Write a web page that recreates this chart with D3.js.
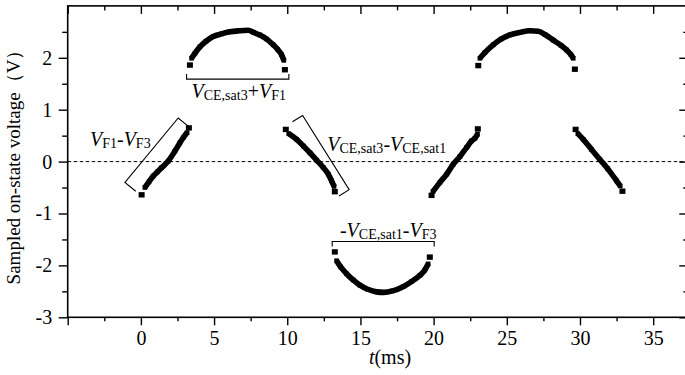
<!DOCTYPE html>
<html><head><meta charset="utf-8">
<script src="https://cdn.jsdelivr.net/npm/d3@7"></script>
<style>
html,body{margin:0;padding:0;background:#fff;}
svg{display:block;font-family:"Liberation Serif","Times New Roman",serif;}
</style></head><body>
<svg id="chart" width="685" height="375"></svg>
<script>
// Sampled on-state voltage (V) against time (ms), one pair of arrays per conduction interval
const rise1T = [0.05, 0.27, 0.55, 0.84, 1.12, 1.41, 1.87, 2.32, 2.66, 2.89, 3.16, 3.28];
const rise1V = [-0.64, -0.50, -0.39, -0.28, -0.20, -0.12, 0.01, 0.20, 0.36, 0.46, 0.56, 0.65];

const arch1T = [3.35, 3.46, 3.70, 4.03, 4.45, 4.94, 5.50, 6.08, 6.70, 7.33, 7.70, 8.13, 8.60, 9.04, 9.35, 9.61, 9.77, 9.84];
const arch1V = [1.86, 1.99, 2.09, 2.21, 2.32, 2.41, 2.46, 2.50, 2.52, 2.53, 2.49, 2.44, 2.36, 2.25, 2.16, 2.06, 1.95, 1.77];

const fall1T = [9.90, 10.10, 10.64, 11.10, 11.55, 12.00, 12.45, 12.80, 13.03, 13.20, 13.25];
const fall1V = [0.62, 0.54, 0.43, 0.30, 0.17, 0.03, -0.11, -0.24, -0.37, -0.48, -0.58];

const troughT = [13.25, 13.37, 13.65, 14.05, 14.50, 14.96, 15.50, 16.10, 16.60, 17.20, 17.92, 18.50, 19.07, 19.40, 19.63, 19.74];
const troughV = [-1.74, -1.91, -2.03, -2.16, -2.28, -2.38, -2.46, -2.51, -2.52, -2.49, -2.41, -2.31, -2.19, -2.09, -1.97, -1.84];

const rise2T = [19.86, 19.95, 20.43, 20.90, 21.34, 21.80, 22.25, 22.60, 22.82, 23.00, 23.02];
const rise2V = [-0.65, -0.58, -0.40, -0.24, -0.05, 0.10, 0.27, 0.40, 0.45, 0.53, 0.63];

const arch2T = [23.05, 23.16, 23.50, 24.07, 24.60, 25.21, 25.90, 26.58, 27.14, 27.60, 28.18, 28.70, 29.09, 29.38, 29.54, 29.65];
const arch2V = [1.85, 1.99, 2.10, 2.25, 2.36, 2.44, 2.49, 2.52, 2.51, 2.45, 2.34, 2.24, 2.15, 2.06, 1.99, 1.78];

const fall2T = [29.70, 29.85, 30.22, 30.80, 31.36, 31.90, 32.50, 32.75, 32.90];
const fall2V = [0.62, 0.54, 0.43, 0.23, 0.04, -0.14, -0.37, -0.47, -0.57];

const xMajorTicks = [-5, 0, 5, 10, 15, 20, 25, 30, 35];
const xMinorTicks = [-2.5, 2.5, 7.5, 12.5, 17.5, 22.5, 27.5, 32.5];
const yMajorTicks = [-3, -2, -1, 0, 1, 2];
const yMinorTicks = [-2.5, -1.5, -0.5, 0.5, 1.5, 2.5];

(function draw() {
  const svg = d3.select("#chart");
  const pLeft = 67.7, pRight = 688.3, pTop = 5.9, pBottom = 317.3;

  const x = d3.scaleLinear().domain([-5, 37.4]).range([pLeft, pRight]);
  const y = d3.scaleLinear().domain([-3, 3]).range([pBottom, pTop]);

  const serif = "'Liberation Serif','Times New Roman',serif";
  function styleAxis(g) {
    g.attr("font-family", serif);
    g.select(".domain").remove();
    g.selectAll(".tick line").attr("stroke", "#000").attr("stroke-width", 1.4);
    g.selectAll("text").attr("fill", "#000").attr("font-size", 20).attr("font-family", serif);
  }
  const fmt = d => (d === -5 ? "" : String(d));

  // bottom axis (outward ticks, labelled)
  svg.append("g").attr("transform", `translate(0,${pBottom})`)
    .call(d3.axisBottom(x).tickValues(xMajorTicks).tickSize(8).tickPadding(5.5).tickFormat(fmt))
    .call(styleAxis);
  svg.append("g").attr("transform", `translate(0,${pBottom})`)
    .call(d3.axisBottom(x).tickValues(xMinorTicks).tickSize(4).tickFormat(""))
    .call(styleAxis);
  // top axis (inward ticks)
  svg.append("g").attr("transform", `translate(0,${pTop})`)
    .call(d3.axisTop(x).tickValues(xMajorTicks).tickSize(-8).tickFormat(""))
    .call(styleAxis);
  svg.append("g").attr("transform", `translate(0,${pTop})`)
    .call(d3.axisTop(x).tickValues(xMinorTicks).tickSize(-4.5).tickFormat(""))
    .call(styleAxis);
  // left axis (outward ticks, labelled)
  svg.append("g").attr("transform", `translate(${pLeft},0)`)
    .call(d3.axisLeft(y).tickValues(yMajorTicks).tickSize(9).tickPadding(6.5).tickFormat(d => String(d)))
    .call(styleAxis);
  svg.append("g").attr("transform", `translate(${pLeft},0)`)
    .call(d3.axisLeft(y).tickValues(yMinorTicks).tickSize(5.5).tickFormat(""))
    .call(styleAxis);
  // right axis (inward ticks)
  svg.append("g").attr("transform", `translate(${pRight},0)`)
    .call(d3.axisRight(y).tickValues(yMajorTicks).tickSize(-9).tickFormat(""))
    .call(styleAxis);
  svg.append("g").attr("transform", `translate(${pRight},0)`)
    .call(d3.axisRight(y).tickValues(yMinorTicks).tickSize(-5).tickFormat(""))
    .call(styleAxis);

  // frame
  svg.append("rect").attr("x", pLeft).attr("y", pTop)
    .attr("width", pRight - pLeft).attr("height", pBottom - pTop)
    .attr("fill", "none").attr("stroke", "#000").attr("stroke-width", 1.6);

  // zero reference line
  svg.append("line").attr("x1", pLeft).attr("x2", pRight)
    .attr("y1", y(0)).attr("y2", y(0))
    .attr("stroke", "#000").attr("stroke-width", 1).attr("stroke-dasharray", "3.5,2.5");

  // series: dense square samples drawn as a thick trace plus square markers
  const segments = [
    [rise1T, rise1V], [arch1T, arch1V], [fall1T, fall1V], [troughT, troughV],
    [rise2T, rise2V], [arch2T, arch2V], [fall2T, fall2V]
  ];
  const line = d3.line().x(d => x(d[0])).y(d => y(d[1])).curve(d3.curveMonotoneX);
  const dataG = svg.append("g");
  segments.forEach(([ts, vs]) => {
    const pts = ts.map((t, i) => [t, vs[i]]);
    const n = pts.length;
    // the first and last samples of each interval sit just apart from the rest
    dataG.append("path").datum(pts.slice(1, -1)).attr("d", line)
      .attr("fill", "none").attr("stroke", "#000").attr("stroke-width", 5.6);
    dataG.selectAll(null).data(pts).enter().append("rect")
      .each(function (d, i) {
        const edge = i === 0 || i === n - 1;
        const w = edge ? 6 : 4.6, h = edge ? 5.4 : 4.6;
        d3.select(this).attr("x", x(d[0]) - w / 2).attr("y", y(d[1]) - h / 2)
          .attr("width", w).attr("height", h);
      })
      .attr("fill", "#000");
  });

  // axis titles
  svg.append("text").attr("x", 390).attr("y", 364).attr("text-anchor", "middle")
    .attr("font-size", 20)
    .call(t => { t.append("tspan").attr("font-style", "italic").text("t"); t.append("tspan").text("(ms)"); });
  svg.append("text").attr("transform", "translate(20,162.5) rotate(-90)")
    .attr("text-anchor", "middle").attr("font-size", 19)
    .text("Sampled on-state voltage（V）");

  // annotation labels with subscripts
  function mathLabel(px, py, parts) {
    const t = svg.append("text").attr("x", px).attr("y", py).attr("font-size", 20);
    let shifted = false;
    parts.forEach(p => {
      const s = t.append("tspan").text(p.s);
      if (p.it) s.attr("font-style", "italic");
      if (p.sub) {
        s.attr("font-size", 14);
        if (!shifted) { s.attr("dy", 2); shifted = true; }
      } else if (shifted) { s.attr("dy", -2); shifted = false; }
    });
  }
  mathLabel(x(-3.48), y(0.31), [{s: "V", it: 1}, {s: "F1", sub: 1}, {s: "-"}, {s: "V", it: 1}, {s: "F3", sub: 1}]);
  mathLabel(x(3.46), y(1.22), [{s: "V", it: 1}, {s: "CE,sat3", sub: 1}, {s: "+"}, {s: "V", it: 1}, {s: "F1", sub: 1}]);
  mathLabel(x(12.73), y(0.2), [{s: "V", it: 1}, {s: "CE,sat3", sub: 1}, {s: "-"}, {s: "V", it: 1}, {s: "CE,sat1", sub: 1}]);
  mathLabel(x(13.6), y(-1.45), [{s: "-"}, {s: "V", it: 1}, {s: "CE,sat1", sub: 1}, {s: "-"}, {s: "V", it: 1}, {s: "F3", sub: 1}]);

  // brackets
  const br = svg.append("g").attr("fill", "none").attr("stroke", "#000").attr("stroke-width", 1.1);
  function hBracket(t0, t1, v, cap) {
    const y0 = y(v);
    br.append("path").attr("d", `M${x(t0)},${y0 + cap}V${y0}H${x(t1)}V${y0 + cap}`);
  }
  function slantBracket(t0, v0, t1, v1, dx, dy) {
    const ax = x(t0), ay = y(v0), bx = x(t1), by = y(v1);
    br.append("path").attr("d", `M${ax + dx},${ay + dy}L${ax},${ay}L${bx},${by}L${bx + dx},${by + dy}`);
  }
  hBracket(3.12, 10.11, 1.59, -5);
  hBracket(13.07, 20.04, -1.54, 5);
  slantBracket(-1.09, -0.40, 2.55, 0.84, 10.8, 8.9);
  slantBracket(11.05, 0.89, 14.23, -0.54, -10.2, 6.3);
})();
</script>
</body></html>
